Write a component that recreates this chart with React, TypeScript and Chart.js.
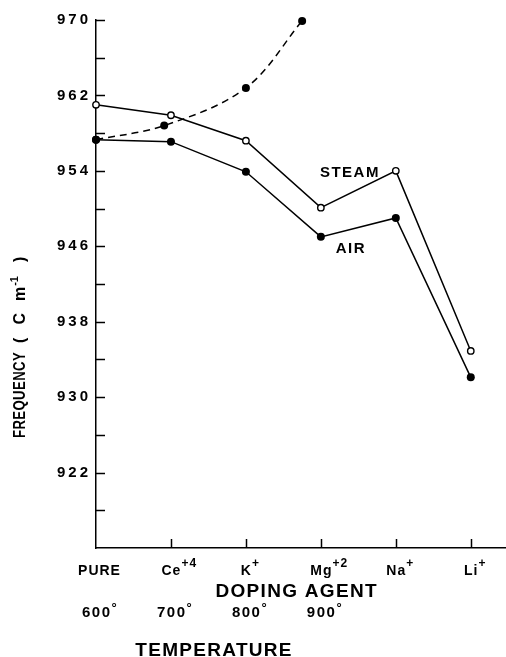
import React, { useEffect, useRef } from "react";
import { Chart, registerables } from "chart.js";

Chart.register(...registerables);

// ---- data ----
const categories = ["PURE", "Ce", "K", "Mg", "Na", "Li"];
const categorySup = ["", "+4", "+", "+2", "+", "+"];
const steamValues = [961.0, 959.9, 957.2, 950.1, 954.0, 934.9];
const airValues = [957.3, 957.1, 953.9, 947.0, 949.0, 932.1];
const temperatureValues = [600, 691, 800, 875];
const temperatureFrequency = [957.3, 958.8, 962.8, 969.9];
const temperatureTicks = [600, 700, 800, 900];
const yLabelTicks = [970, 962, 954, 946, 938, 930, 922];
const yMin = 914;
const yMax = 970;
const yMinorStep = 4;
const xMax = 5.47;
const steamLabel = { text: "STEAM", x: 3.378, y: 953.3 };
const airLabel = { text: "AIR", x: 3.39, y: 945.3 };

const FONT = "'Liberation Sans', Arial, sans-serif";

function drawText(
  ctx: CanvasRenderingContext2D,
  s: string,
  x: number,
  y: number,
  size: number,
  spacing: number,
  align: CanvasTextAlign = "left",
  weight = "bold"
) {
  ctx.save();
  ctx.font = `${weight} ${size}px ${FONT}`;
  (ctx as any).letterSpacing = `${spacing}px`;
  ctx.textAlign = align;
  ctx.textBaseline = "alphabetic";
  ctx.fillStyle = "#000";
  const dx = align === "center" ? spacing / 2 : 0;
  ctx.fillText(s, x + dx, y);
  ctx.restore();
}

function measure(ctx: CanvasRenderingContext2D, s: string, size: number, spacing: number) {
  ctx.save();
  ctx.font = `bold ${size}px ${FONT}`;
  (ctx as any).letterSpacing = `${spacing}px`;
  const w = ctx.measureText(s).width;
  ctx.restore();
  return w;
}

function drawWithSup(
  ctx: CanvasRenderingContext2D,
  base: string,
  sup: string,
  cx: number,
  y: number,
  size: number,
  supSize: number,
  spacing: number,
  raise: number
) {
  const w = measure(ctx, base, size, spacing);
  const start = cx - (w - spacing) / 2;
  drawText(ctx, base, start, y, size, spacing, "left");
  if (sup) drawText(ctx, sup, start + w, y - raise, supSize, 1, "left");
}

const decor = {
  id: "decor",
  beforeDraw(chart: any) {
    (chart.ctx as any).letterSpacing = "3px";
  },
  afterDraw(chart: any) {
    const ctx: CanvasRenderingContext2D = chart.ctx;
    const { x, x2, y } = chart.scales;
    const area = chart.chartArea;
    ctx.save();
    (ctx as any).letterSpacing = "0px";
    ctx.strokeStyle = "#000";
    ctx.lineWidth = 1.5;
    // y minor/major tick marks (inward)
    for (let v = yMin + yMinorStep; v <= yMax; v += yMinorStep) {
      const py = Math.round(y.getPixelForValue(v)) + 0.5;
      ctx.beginPath();
      ctx.moveTo(area.left, py);
      ctx.lineTo(area.left + 9, py);
      ctx.stroke();
    }
    // x tick marks (inward)
    for (let i = 1; i < categories.length; i++) {
      const px = Math.round(x.getPixelForValue(i)) + 0.5;
      ctx.beginPath();
      ctx.moveTo(px, area.bottom);
      ctx.lineTo(px, area.bottom - 9);
      ctx.stroke();
    }
    ctx.restore();

    // x category labels
    categories.forEach((c, i) => {
      drawWithSup(ctx, c, categorySup[i], x.getPixelForValue(i) + (i === 0 ? 3 : 0), area.bottom + 27, 14, 12, 1, 8);
    });
    // x title
    drawText(ctx, "DOPING AGENT", (area.left + area.right) / 2 - 5, area.bottom + 49, 19, 1.3, "center");
    // temperature labels
    temperatureTicks.forEach((t) => {
      drawWithSup(ctx, String(t), "°", x2.getPixelForValue(t), area.bottom + 69, 15, 13, 1.5, 5);
    });
    const tmid =
      (x2.getPixelForValue(temperatureTicks[0]) + x2.getPixelForValue(temperatureTicks[temperatureTicks.length - 1])) / 2;
    drawText(ctx, "TEMPERATURE", tmid + 5, area.bottom + 108, 19, 1.3, "center");

    // series labels
    drawText(ctx, steamLabel.text, x.getPixelForValue(steamLabel.x), y.getPixelForValue(steamLabel.y), 15, 1.5, "center");
    drawText(ctx, airLabel.text, x.getPixelForValue(airLabel.x), y.getPixelForValue(airLabel.y), 15, 1.5, "center");

    // y title (rotated)
    ctx.save();
    ctx.translate(25, 438);
    ctx.rotate(-Math.PI / 2);
    ctx.save();
    ctx.scale(0.82, 1);
    drawText(ctx, "FREQUENCY", 0, 0, 16, 0.5, "left");
    ctx.restore();
    let cur = measure(ctx, "FREQUENCY", 16, 0.5) * 0.82 + 9;
    const pieces: [string, number, number, number][] = [
      ["(", 16, 0, 13],
      ["C", 16, 0, 12],
      ["m", 16, 0, 1],
      ["-1", 11, 7, 14],
      [")", 16, 0, 0],
    ];
    for (const [s, sz, raise, gap] of pieces) {
      drawText(ctx, s, cur, -raise, sz, 0, "left");
      cur += measure(ctx, s, sz, 0) + gap;
    }
    ctx.restore();
  },
};

export default function App() {
  const ref = useRef<HTMLCanvasElement | null>(null);
  useEffect(() => {
    if (!ref.current) return;
    const chart = new Chart(ref.current, {
      type: "line",
      data: {
        datasets: [
          {
            label: "STEAM",
            data: categories.map((_, i) => ({ x: i, y: steamValues[i] })),
            xAxisID: "x",
            borderColor: "#000",
            borderWidth: 1.5,
            pointRadius: 3.2,
            pointBackgroundColor: "#fff",
            pointBorderColor: "#000",
            pointBorderWidth: 1.4,
            tension: 0,
            clip: false as any,
          },
          {
            label: "AIR",
            data: categories.map((_, i) => ({ x: i, y: airValues[i] })),
            xAxisID: "x",
            borderColor: "#000",
            borderWidth: 1.5,
            pointRadius: 4,
            pointBackgroundColor: "#000",
            pointBorderColor: "#000",
            pointBorderWidth: 0,
            tension: 0,
            clip: false as any,
          },
          {
            label: "TEMPERATURE",
            data: temperatureValues.map((t, i) => ({ x: t, y: temperatureFrequency[i] })),
            xAxisID: "x2",
            borderColor: "#000",
            borderWidth: 1.5,
            borderDash: [7, 5],
            pointRadius: 4,
            pointBackgroundColor: "#000",
            pointBorderColor: "#000",
            pointBorderWidth: 0,
            tension: 0.35,
            clip: false as any,
          },
        ],
      },
      options: {
        animation: false,
        responsive: true,
        maintainAspectRatio: false,
        layout: { autoPadding: false, padding: { top: 20, left: 0, right: 0, bottom: 0 } },
        plugins: { legend: { display: false }, tooltip: { enabled: false } },
        scales: {
          x: {
            type: "linear",
            position: "bottom",
            weight: 0,
            min: 0,
            max: xMax,
            grid: { display: false, drawTicks: false },
            border: { display: true, color: "#000", width: 1.5 },
            ticks: { display: false, stepSize: 1 },
            afterFit: (s: any) => {
              s.height = 50;
              s.paddingLeft = 0;
              s.paddingRight = 0;
            },
          },
          x2: {
            type: "linear",
            position: "bottom",
            weight: 1,
            min: temperatureTicks[0],
            max: temperatureTicks[0] + 100 * xMax,
            grid: { display: false, drawTicks: false },
            border: { display: false },
            ticks: { display: false },
            afterFit: (s: any) => {
              s.height = 59;
              s.paddingLeft = 0;
              s.paddingRight = 0;
            },
          },
          y: {
            type: "linear",
            position: "left",
            min: yMin,
            max: yMax,
            grid: { display: false, drawTicks: false },
            border: { display: true, color: "#000", width: 1.5 },
            afterBuildTicks: (s: any) => {
              s.ticks = yLabelTicks.map((v) => ({ value: v }));
            },
            ticks: {
              color: "#000",
              padding: 5,
              font: { family: FONT, size: 15, weight: "bold" },
              callback: (v: any) => String(v),
            },
            afterFit: (s: any) => {
              s.width = 96;
            },
          },
        },
      },
      plugins: [decor],
    });
    return () => chart.destroy();
  }, []);
  return (
    <div style={{ position: "absolute", left: 0, top: 0, width: 506, height: 657, background: "#fff" }}>
      <canvas ref={ref} />
    </div>
  );
}
